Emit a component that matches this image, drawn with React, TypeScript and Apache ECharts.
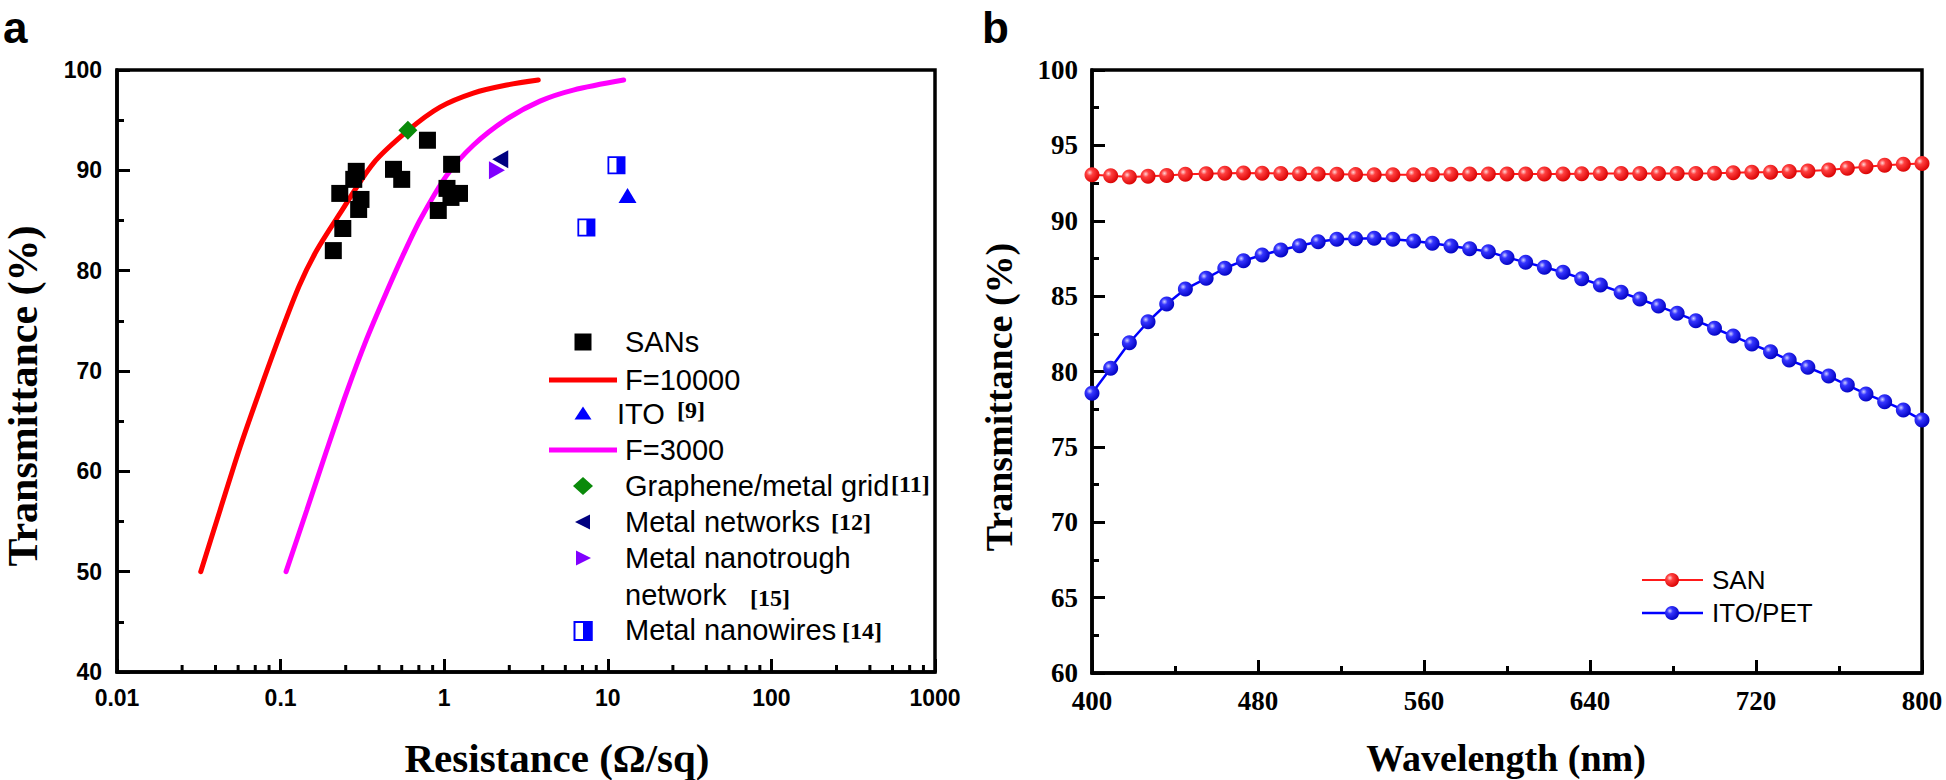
import React, { useEffect, useRef } from "react";
import * as echarts from "echarts";

// ---------- Panel a data (Resistance Ω/sq, Transmittance %) ----------
const sansPoints = [
  [0.79, 93.0], [0.29, 89.9], [0.28, 89.1], [0.23, 87.7], [0.31, 87.1],
  [0.3, 86.1], [0.24, 84.2], [0.21, 82.0], [0.49, 90.1], [0.55, 89.1],
  [1.11, 90.6], [1.04, 88.2], [1.24, 87.7], [0.92, 86.0], [1.1, 87.3],
];
const f10000Curve = [
  [0.0325, 50], [0.0426, 56.1], [0.0565, 62.4], [0.0748, 68.1], [0.0992, 73.6],
  [0.13, 78.5], [0.166, 82], [0.2307, 85.7], [0.3687, 90.7], [0.604, 94],
  [0.943, 96.3], [1.506, 97.7], [2.41, 98.5], [3.76, 99],
];
const f3000Curve = [
  [0.108, 50], [0.1443, 56.1], [0.1913, 62.1], [0.2535, 67.9], [0.336, 73.2],
  [0.445, 77.9], [0.562, 81.6], [0.72, 85.2], [1.036, 89.5], [1.506, 92.5],
  [2.41, 95.1], [3.85, 96.9], [6.15, 98.0], [12.5, 99],
];
const itoPoints = [[13.2, 87.5]];
const graphenePoints = [[0.6, 94.0]];
const networksPoints = [[2.2, 91.1]];
const nanotroughPoints = [[2.1, 90.0]];
const nanowiresPoints = [[11.3, 90.5], [7.4, 84.3]];
const resistanceMinorTicks = [
  0.025, 0.04, 0.055, 0.07, 0.085,
  0.25, 0.4, 0.55, 0.7, 0.85,
  2.5, 4, 5.5, 7, 8.5,
  25, 40, 55, 70, 85,
  250, 400, 550, 700, 850,
];

// ---------- Panel b data (Wavelength nm, Transmittance %) ----------
const wavelengths = [
  400, 409, 418, 427, 436, 445, 455, 464, 473, 482,
  491, 500, 509, 518, 527, 536, 545, 555, 564, 573,
  582, 591, 600, 609, 618, 627, 636, 645, 655, 664,
  673, 682, 691, 700, 709, 718, 727, 736, 745, 755,
  764, 773, 782, 791, 800,
];
const sanValues = [
  93.05, 92.98, 92.9, 92.95, 93.0, 93.08, 93.12, 93.15, 93.17, 93.15,
  93.14, 93.12, 93.1, 93.08, 93.06, 93.05, 93.05, 93.05, 93.07, 93.09,
  93.1, 93.1, 93.1, 93.1, 93.1, 93.1, 93.12, 93.13, 93.13, 93.13,
  93.13, 93.13, 93.14, 93.15, 93.19, 93.21, 93.22, 93.26, 93.3, 93.37,
  93.48, 93.59, 93.68, 93.74, 93.8,
];
const itoPetValues = [
  78.55, 80.21, 81.91, 83.3, 84.48, 85.47, 86.18, 86.85, 87.35, 87.73,
  88.06, 88.34, 88.61, 88.77, 88.81, 88.84, 88.77, 88.66, 88.5, 88.33,
  88.15, 87.95, 87.57, 87.24, 86.91, 86.58, 86.16, 85.74, 85.25, 84.81,
  84.34, 83.86, 83.37, 82.87, 82.35, 81.82, 81.31, 80.76, 80.28, 79.7,
  79.1, 78.51, 78.0, 77.45, 76.78,
];

const SANS = '"Liberation Sans", Arial, sans-serif';
const SERIF = '"Liberation Serif", "Times New Roman", serif';

const ball = (light: string, mid: string, dark: string) =>
  new echarts.graphic.RadialGradient(0.35, 0.35, 0.7, [
    { offset: 0, color: light },
    { offset: 0.3, color: mid },
    { offset: 1, color: dark },
  ]);

export default function App() {
  const ref = useRef<HTMLDivElement>(null);

  useEffect(() => {
    if (!ref.current) return;
    const chart = echarts.init(ref.current, undefined, { renderer: "svg" });

    const axisLine = { show: true, lineStyle: { color: "#000", width: 3.5 } };
    const majorTick = { show: true, inside: true, length: 13, lineStyle: { color: "#000", width: 3 } };
    const minorTick = { show: true, splitNumber: 2, length: 7, lineStyle: { color: "#000", width: 3 } };
    const sansLabel = { color: "#000", fontFamily: SANS, fontWeight: "bold" as const, fontSize: 23 };
    const serifLabel = { color: "#000", fontFamily: SERIF, fontWeight: "bold" as const, fontSize: 27 };

    const redBall = ball("#ffd6d6", "#ff4040", "#d80000");
    const blueBall = ball("#d0d0ff", "#3535ff", "#0000c0");

    const legendText = (text: string, x: number, y: number) => ({
      type: "text", x, y, silent: true,
      style: { text, fill: "#000", font: `29px ${SANS}`, align: "left", verticalAlign: "middle" },
    });
    const refText = (text: string, x: number, y: number) => ({
      type: "text", x, y, silent: true,
      style: { text, fill: "#000", font: `bold 24px ${SERIF}`, align: "left", verticalAlign: "middle" },
    });
    const scatterStyle = (color: string) => ({ color, opacity: 1 });

    const option: any = {
      animation: false,
      backgroundColor: "#fff",
      grid: [
        { left: 117, top: 70, width: 818, height: 602, show: true, borderColor: "#000", borderWidth: 3.5, backgroundColor: "transparent" },
        { left: 1092, top: 70, width: 830, height: 603, show: true, borderColor: "#000", borderWidth: 3.5, backgroundColor: "transparent" },
      ],
      xAxis: [
        {
          type: "log", logBase: 10, min: 0.01, max: 1000, splitNumber: 5, gridIndex: 0,
          axisLine, axisTick: majorTick, minorTick: { show: false },
          splitLine: { show: false },
          axisLabel: { ...sansLabel, margin: 14, showMinLabel: true, showMaxLabel: true,
            formatter: (v: number) => String(+v.toPrecision(6)) },
        },
        {
          type: "value", min: 400, max: 800, interval: 80, gridIndex: 1,
          axisLine, axisTick: majorTick, minorTick,
          splitLine: { show: false },
          axisLabel: { ...serifLabel, margin: 14 },
        },
      ],
      yAxis: [
        {
          type: "value", min: 40, max: 100, interval: 10, gridIndex: 0,
          axisLine, axisTick: majorTick, minorTick,
          splitLine: { show: false },
          axisLabel: { ...sansLabel, margin: 15 },
        },
        {
          type: "value", min: 60, max: 100, interval: 5, gridIndex: 1,
          axisLine, axisTick: majorTick, minorTick,
          splitLine: { show: false },
          axisLabel: { ...serifLabel, margin: 14 },
        },
      ],
      series: [
        {
          name: "F=10000", type: "line", xAxisIndex: 0, yAxisIndex: 0, data: f10000Curve,
          smooth: 0.3, showSymbol: false,
          lineStyle: { color: "#ff0000", width: 5, cap: "round" }, silent: true, z: 2,
        },
        {
          name: "F=3000", type: "line", xAxisIndex: 0, yAxisIndex: 0, data: f3000Curve,
          smooth: 0.3, showSymbol: false,
          lineStyle: { color: "#ff00ff", width: 5, cap: "round" }, silent: true, z: 2,
        },
        {
          name: "SANs", type: "scatter", xAxisIndex: 0, yAxisIndex: 0, data: sansPoints,
          symbol: "rect", symbolSize: 17, itemStyle: scatterStyle("#000"), silent: true, z: 3,
        },
        {
          name: "ITO", type: "scatter", xAxisIndex: 0, yAxisIndex: 0, data: itoPoints,
          symbol: "triangle", symbolSize: [18, 15], itemStyle: scatterStyle("#0000ff"), silent: true, z: 3,
        },
        {
          name: "Graphene/metal grid", type: "scatter", xAxisIndex: 0, yAxisIndex: 0, data: graphenePoints,
          symbol: "diamond", symbolSize: [19, 19], itemStyle: scatterStyle("#0a8a0a"), silent: true, z: 4,
        },
        {
          name: "Metal networks", type: "scatter", xAxisIndex: 0, yAxisIndex: 0, data: networksPoints,
          symbol: "triangle", symbolRotate: 90, symbolSize: [18, 16], itemStyle: scatterStyle("#000080"), silent: true, z: 3,
        },
        {
          name: "Metal nanotrough network", type: "scatter", xAxisIndex: 0, yAxisIndex: 0, data: nanotroughPoints,
          symbol: "triangle", symbolRotate: -90, symbolSize: [18, 16], itemStyle: scatterStyle("#8000ff"), silent: true, z: 3,
        },
        {
          name: "Metal nanowires", type: "scatter", xAxisIndex: 0, yAxisIndex: 0, data: nanowiresPoints,
          symbol: "path://M0,0H20V20H0Z M2,2V18H10V2Z", symbolSize: 18, itemStyle: scatterStyle("#0000ff"), silent: true, z: 3,
        },
        {
          name: "minorTicks", type: "custom", xAxisIndex: 0, yAxisIndex: 0,
          data: resistanceMinorTicks.map((v) => [v, 40]), clip: false, silent: true, z: 10,
          renderItem: (_p: any, api: any) => {
            const pt = api.coord([api.value(0), api.value(1)]);
            return {
              type: "line",
              shape: { x1: pt[0], y1: pt[1], x2: pt[0], y2: pt[1] - 7 },
              style: { stroke: "#000", lineWidth: 3 },
            };
          },
        },
        {
          name: "SAN", type: "line", xAxisIndex: 1, yAxisIndex: 1,
          data: wavelengths.map((w, i) => [w, sanValues[i]]),
          symbol: "circle", symbolSize: 15, showSymbol: true,
          lineStyle: { color: "#ff1a1a", width: 2 }, itemStyle: { color: redBall, opacity: 1 }, silent: true, clip: false,
        },
        {
          name: "ITO/PET", type: "line", xAxisIndex: 1, yAxisIndex: 1,
          data: wavelengths.map((w, i) => [w, itoPetValues[i]]),
          symbol: "circle", symbolSize: 15, showSymbol: true,
          lineStyle: { color: "#0000ff", width: 2.5 }, itemStyle: { color: blueBall, opacity: 1 }, silent: true, clip: false,
        },
      ],
      graphic: [
        // panel letters
        { type: "text", x: 3, y: 27, silent: true, style: { text: "a", fill: "#000", font: `bold 44px ${SANS}`, align: "left", verticalAlign: "middle" } },
        { type: "text", x: 982, y: 27, silent: true, style: { text: "b", fill: "#000", font: `bold 44px ${SANS}`, align: "left", verticalAlign: "middle" } },
        // axis titles
        { type: "text", x: 22.5, y: 396, rotation: Math.PI / 2, silent: true, style: { text: "Transmittance (%)", fill: "#000", font: `bold 42px ${SERIF}`, align: "center", verticalAlign: "middle" } },
        { type: "text", x: 557, y: 758, silent: true, style: { text: "Resistance (Ω/sq)", fill: "#000", font: `bold 41px ${SERIF}`, align: "center", verticalAlign: "middle" } },
        { type: "text", x: 998.5, y: 397, rotation: Math.PI / 2, silent: true, style: { text: "Transmittance (%)", fill: "#000", font: `bold 38px ${SERIF}`, align: "center", verticalAlign: "middle" } },
        { type: "text", x: 1506, y: 758, silent: true, style: { text: "Wavelength (nm)", fill: "#000", font: `bold 38px ${SERIF}`, align: "center", verticalAlign: "middle" } },

        // panel a legend symbols
        { type: "rect", silent: true, shape: { x: 574.5, y: 333.5, width: 17, height: 17 }, style: { fill: "#000" } },
        { type: "line", silent: true, shape: { x1: 549, y1: 380, x2: 617, y2: 380 }, style: { stroke: "#ff0000", lineWidth: 5 } },
        { type: "polygon", silent: true, shape: { points: [[574.5, 419.5], [591.5, 419.5], [583, 406.5]] }, style: { fill: "#0000ff" } },
        { type: "line", silent: true, shape: { x1: 549, y1: 450, x2: 617, y2: 450 }, style: { stroke: "#ff00ff", lineWidth: 5 } },
        { type: "polygon", silent: true, shape: { points: [[573, 486], [583, 477], [593, 486], [583, 495]] }, style: { fill: "#0a8a0a" } },
        { type: "polygon", silent: true, shape: { points: [[575, 522], [590, 514.5], [590, 529.5]] }, style: { fill: "#000080" } },
        { type: "polygon", silent: true, shape: { points: [[576, 550.5], [576, 565.5], [591, 558]] }, style: { fill: "#8000ff" } },
        { type: "rect", silent: true, shape: { x: 574.5, y: 622, width: 17, height: 18 }, style: { fill: "#fff", stroke: "#0000ff", lineWidth: 2 } },
        { type: "rect", silent: true, shape: { x: 583, y: 621, width: 9.5, height: 20 }, style: { fill: "#0000ff" } },

        // panel a legend texts
        legendText("SANs", 625, 342),
        legendText("F=10000", 625, 380),
        legendText("ITO", 617, 414),
        refText("[9]", 677, 410),
        legendText("F=3000", 625, 450),
        legendText("Graphene/metal grid", 625, 486),
        refText("[11]", 891, 484),
        legendText("Metal networks", 625, 522),
        refText("[12]", 831, 522),
        legendText("Metal nanotrough", 625, 558),
        legendText("network", 625, 595),
        refText("[15]", 750, 598),
        legendText("Metal nanowires", 625, 630),
        refText("[14]", 842, 631),

        // panel b legend
        { type: "line", silent: true, shape: { x1: 1642, y1: 580, x2: 1703, y2: 580 }, style: { stroke: "#ff1a1a", lineWidth: 2 } },
        { type: "circle", silent: true, shape: { cx: 1672, cy: 580, r: 7 }, style: { fill: redBall } },
        { type: "line", silent: true, shape: { x1: 1642, y1: 613, x2: 1703, y2: 613 }, style: { stroke: "#0000ff", lineWidth: 2.5 } },
        { type: "circle", silent: true, shape: { cx: 1672, cy: 613, r: 7 }, style: { fill: blueBall } },
        { type: "text", x: 1712, y: 580, silent: true, style: { text: "SAN", fill: "#000", font: `26px ${SANS}`, align: "left", verticalAlign: "middle" } },
        { type: "text", x: 1712, y: 613, silent: true, style: { text: "ITO/PET", fill: "#000", font: `26px ${SANS}`, align: "left", verticalAlign: "middle" } },
      ],
    };

    chart.setOption(option);
    return () => chart.dispose();
  }, []);

  return (
    <div
      ref={ref}
      style={{ position: "absolute", left: 0, top: 0, width: 1946, height: 780, background: "#fff" }}
    />
  );
}
